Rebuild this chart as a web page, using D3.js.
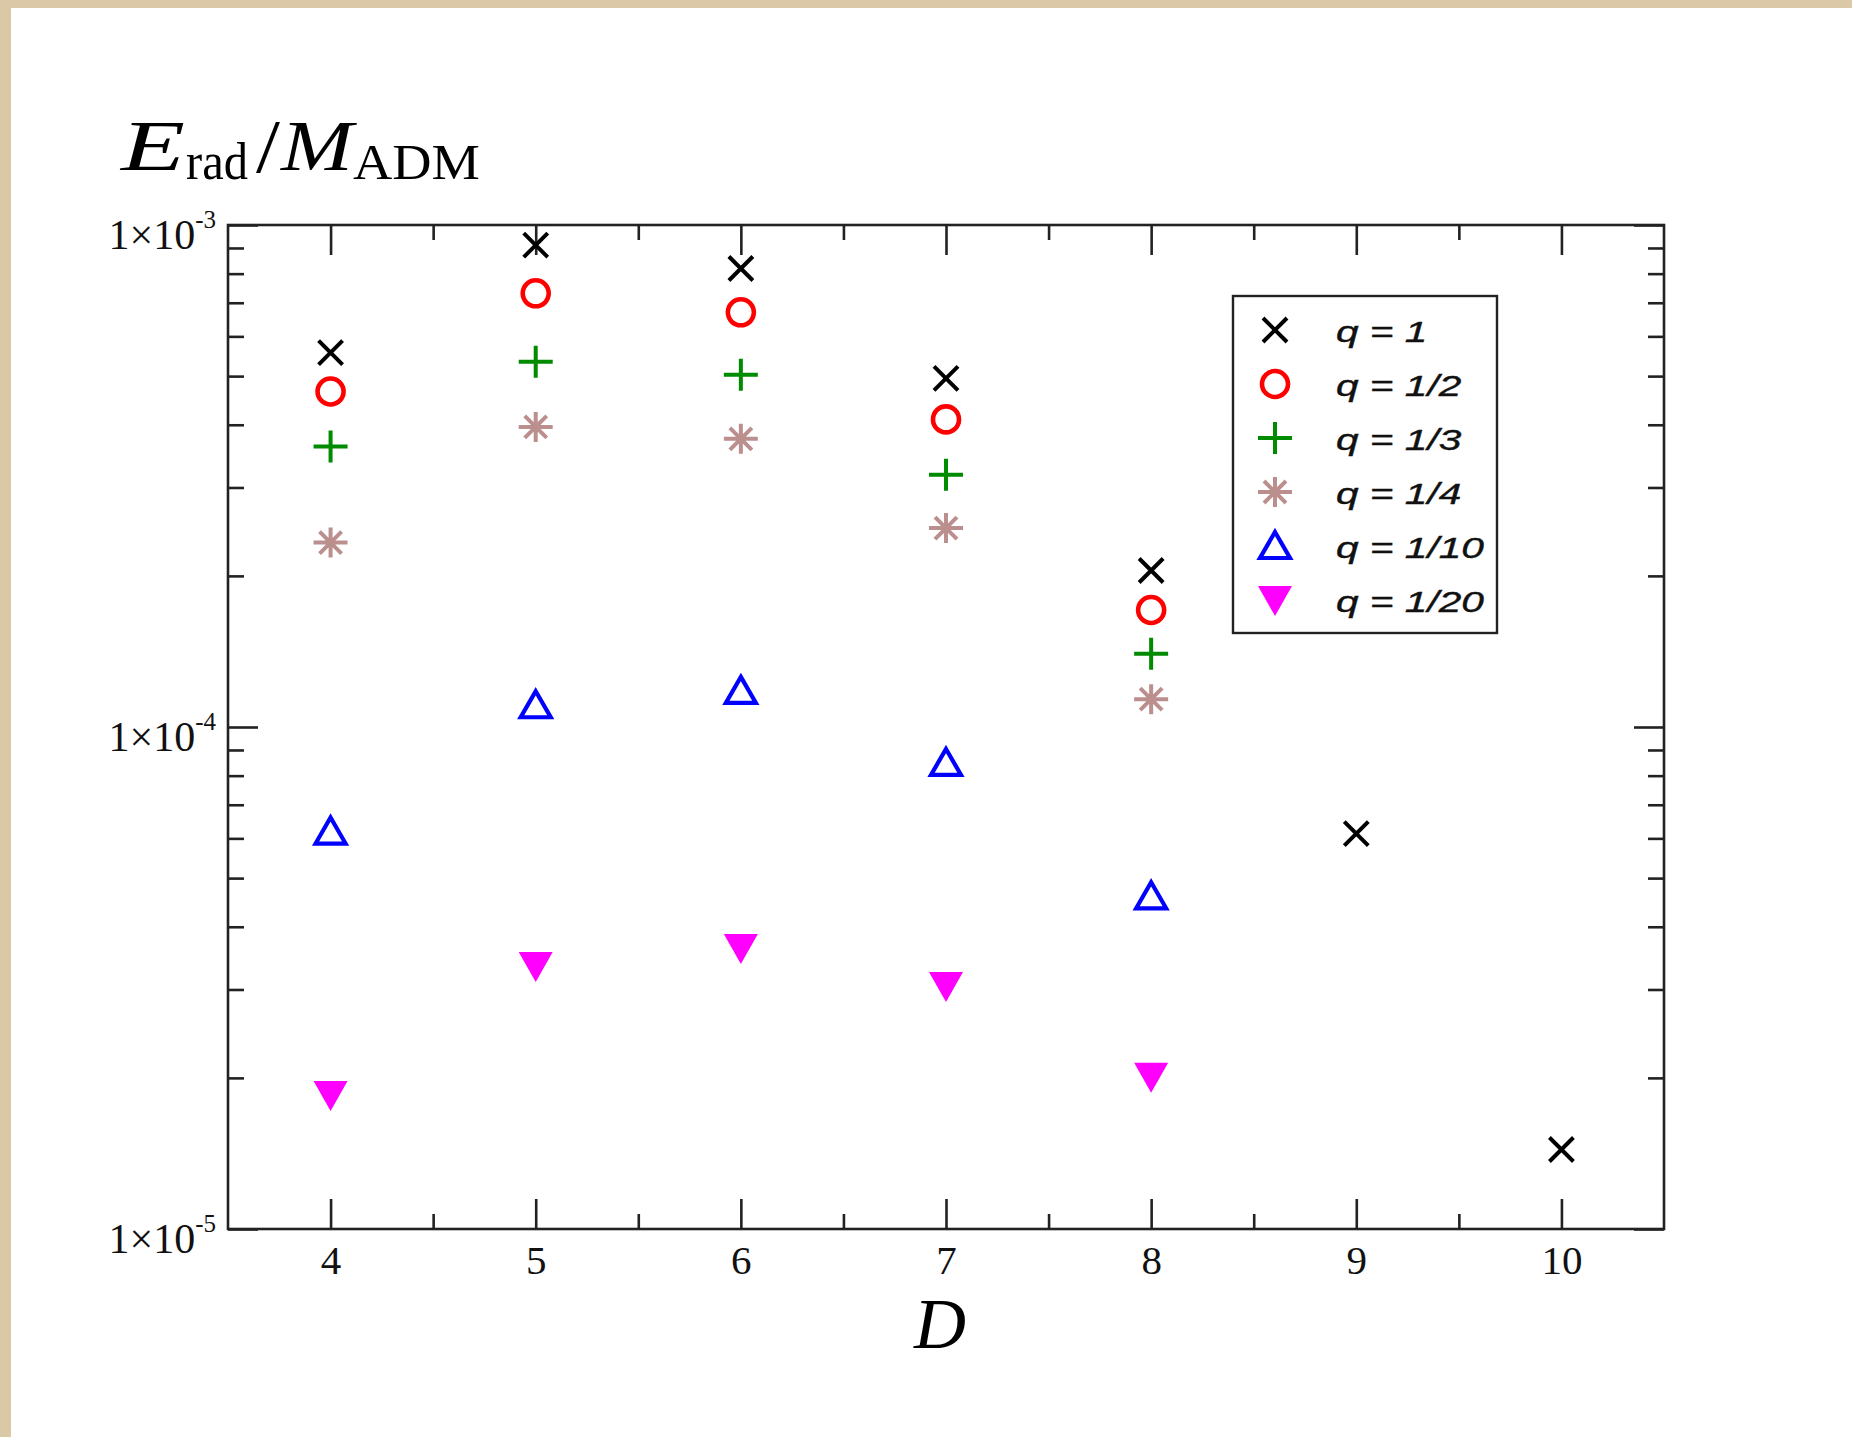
<!DOCTYPE html>
<html>
<head>
<meta charset="utf-8">
<script src="https://cdn.jsdelivr.net/npm/d3@7"></script>
<style>
  html, body { margin: 0; padding: 0; background: #fff; }
  svg { display: block; }
</style>
</head>
<body>
<svg id="chart" width="1852" height="1437"></svg>
<script>
// dimensions D on the x axis
var dims = [4, 5, 6, 7, 8, 9, 10];

// E_rad / M_ADM for each mass ratio q
var q1   = [5.57e-4, 9.12e-4, 8.19e-4, 4.95e-4, 2.05e-4, 6.13e-5, 1.44e-5];
var q1_2 = [4.66e-4, 7.31e-4, 6.70e-4, 4.10e-4, 1.71e-4];
var q1_3 = [3.62e-4, 5.34e-4, 5.03e-4, 3.18e-4, 1.40e-4];
var q1_4 = [2.33e-4, 3.96e-4, 3.75e-4, 2.49e-4, 1.136e-4];
var q1_10 = [6.19e-5, 1.105e-4, 1.18e-4, 8.48e-5, 4.60e-5];
var q1_20 = [1.85e-5, 3.34e-5, 3.63e-5, 3.05e-5, 2.01e-5];

var seriesNames = ["q = 1", "q = 1/2", "q = 1/3", "q = 1/4", "q = 1/10", "q = 1/20"];
var seriesValues = [q1, q1_2, q1_3, q1_4, q1_10, q1_20];
var seriesSymbols = ["x", "circle", "plus", "star", "tri", "tridown"];
var seriesColors = ["#000000", "#ff0000", "#008b00", "#bc8f8f", "#0000ff", "#ff00ff"];

var yMajor = [1e-5, 1e-4, 1e-3];
var yExp = ["-5", "-4", "-3"];

var svg = d3.select("#chart");
var width = +svg.attr("width"), height = +svg.attr("height");

// beige page edge
svg.append("rect").attr("x", 0).attr("y", 0).attr("width", width).attr("height", 8).attr("fill", "#dbc8a6");
svg.append("rect").attr("x", 0).attr("y", 0).attr("width", 11).attr("height", height).attr("fill", "#dbc8a6");

var plot = {left: 228, top: 225, right: 1664, bottom: 1229};

var x = d3.scaleLinear().domain([3.5, 10.5]).range([plot.left, plot.right]);
var y = d3.scaleLog().domain([1e-5, 1e-3]).range([plot.bottom, plot.top]);

var majorX = d3.range(4, 11);
var minorX = d3.range(4.5, 10.5, 1);
var minorY = [];
[1e-5, 1e-4].forEach(function(dec) {
    for (var k = 2; k <= 9; k++) minorY.push(dec * k);
});

function tickStyle(g) {
    g.select(".domain").remove();
    g.selectAll(".tick line").attr("stroke", "#222").attr("stroke-width", 2.6);
}

// bottom axis: inward ticks, labels below
svg.append("g").attr("transform", "translate(0," + plot.bottom + ")")
    .call(d3.axisBottom(x).tickValues(majorX).tickSize(-30).tickPadding(16).tickFormat(d3.format("d")))
    .call(tickStyle)
    .selectAll("text")
    .attr("font-family", "'Liberation Serif', serif")
    .attr("font-size", 41)
    .attr("fill", "#111");
svg.append("g").attr("transform", "translate(0," + plot.bottom + ")")
    .call(d3.axisBottom(x).tickValues(minorX).tickSize(-15).tickFormat(""))
    .call(tickStyle);

// top axis (mirror ticks)
svg.append("g").attr("transform", "translate(0," + plot.top + ")")
    .call(d3.axisTop(x).tickValues(majorX).tickSize(-30).tickFormat(""))
    .call(tickStyle);
svg.append("g").attr("transform", "translate(0," + plot.top + ")")
    .call(d3.axisTop(x).tickValues(minorX).tickSize(-15).tickFormat(""))
    .call(tickStyle);

// left and right axes
svg.append("g").attr("transform", "translate(" + plot.left + ",0)")
    .call(d3.axisLeft(y).tickValues(yMajor).tickSize(-30).tickFormat(""))
    .call(tickStyle);
svg.append("g").attr("transform", "translate(" + plot.left + ",0)")
    .call(d3.axisLeft(y).tickValues(minorY).tickSize(-16).tickFormat(""))
    .call(tickStyle);
svg.append("g").attr("transform", "translate(" + plot.right + ",0)")
    .call(d3.axisRight(y).tickValues(yMajor).tickSize(-30).tickFormat(""))
    .call(tickStyle);
svg.append("g").attr("transform", "translate(" + plot.right + ",0)")
    .call(d3.axisRight(y).tickValues(minorY).tickSize(-16).tickFormat(""))
    .call(tickStyle);

// frame
svg.append("rect")
    .attr("x", plot.left).attr("y", plot.top)
    .attr("width", plot.right - plot.left).attr("height", plot.bottom - plot.top)
    .attr("fill", "none").attr("stroke", "#222").attr("stroke-width", 2.6);

// y tick labels 1x10^n
var ylab = svg.append("g").selectAll("text")
    .data(yMajor).enter().append("text")
    .attr("x", 216)
    .attr("y", function(d) { return y(d) + 24; })
    .attr("text-anchor", "end")
    .attr("font-family", "'Liberation Serif', serif")
    .attr("font-size", 42)
    .attr("fill", "#111");
ylab.append("tspan").text("1\u00d710");
ylab.append("tspan")
    .attr("font-size", 25)
    .attr("dy", -21)
    .text(function(d, i) { return yExp[i]; });

// axis titles
svg.append("text")
    .attr("x", (plot.left + plot.right) / 2 - 6)
    .attr("y", 1348)
    .attr("text-anchor", "middle")
    .attr("font-family", "'Liberation Serif', serif")
    .attr("font-style", "italic")
    .attr("font-size", 72)
    .attr("fill", "#000")
    .text("D");

// E_rad / M_ADM, pieces stretched to the widths of the TeX glyphs
var titleParts = [
    {t: "E",   x: 121, y: 170, size: 72, italic: true,  w: 64},
    {t: "rad", x: 186, y: 179, size: 52, italic: false, w: 62},
    {t: "/",   x: 256, y: 172, size: 76, italic: false, w: 24},
    {t: "M",   x: 281, y: 170, size: 72, italic: true,  w: 72},
    {t: "ADM", x: 353, y: 179, size: 50, italic: false, w: 127}
];
svg.append("g").selectAll("text")
    .data(titleParts).enter().append("text")
    .attr("x", function(d) { return d.x; })
    .attr("y", function(d) { return d.y; })
    .attr("font-family", "'Liberation Serif', serif")
    .attr("font-size", function(d) { return d.size; })
    .attr("font-style", function(d) { return d.italic ? "italic" : "normal"; })
    .attr("textLength", function(d) { return d.w; })
    .attr("lengthAdjust", "spacingAndGlyphs")
    .attr("fill", "#000")
    .text(function(d) { return d.t; });

// marker shapes
function symbolPath(type) {
    switch (type) {
        case "x": return "M-12,-12L12,12M-12,12L12,-12";
        case "plus": return "M-17,0L17,0M0,-16L0,16";
        case "star": return "M-17,0L17,0M0,-15L0,15M-11,-11L11,11M-11,11L11,-11";
        case "tri": return "M0,-14L15,12L-15,12Z";
        case "tridown": return "M-17,-14L17,-14L0,16Z";
        default: return "";
    }
}

function drawMarker(sel, type, color) {
    if (type === "circle") {
        sel.append("circle").attr("r", 13)
            .attr("fill", "none").attr("stroke", color).attr("stroke-width", 4.6);
    } else if (type === "tridown") {
        sel.append("path").attr("d", symbolPath(type)).attr("fill", color);
    } else {
        sel.append("path").attr("d", symbolPath(type))
            .attr("fill", "none").attr("stroke", color)
            .attr("stroke-width", type === "tri" ? 4.2 : 4)
            .attr("stroke-linejoin", "miter");
    }
}

seriesValues.forEach(function(vals, s) {
    var pts = vals.map(function(v, i) { return {d: dims[i], v: v}; });
    svg.append("g").selectAll("g")
        .data(pts).enter().append("g")
        .attr("transform", function(p) { return "translate(" + x(p.d) + "," + y(p.v) + ")"; })
        .each(function() { drawMarker(d3.select(this), seriesSymbols[s], seriesColors[s]); });
});

// legend
var legend = svg.append("g").attr("transform", "translate(1233,296)");
legend.append("rect")
    .attr("width", 264).attr("height", 337)
    .attr("fill", "#fff").attr("stroke", "#222").attr("stroke-width", 2.4);

var rows = legend.selectAll(".row")
    .data(seriesNames).enter().append("g")
    .attr("class", "row")
    .attr("transform", function(d, i) { return "translate(0," + (34 + i * 54) + ")"; });
rows.append("g")
    .attr("transform", "translate(42,0)")
    .each(function(d, i) { drawMarker(d3.select(this), seriesSymbols[i], seriesColors[i]); });
rows.append("g")
    .attr("transform", "translate(103,12) scale(1.4,1)")
    .append("text")
    .attr("font-family", "'Liberation Sans', Arial, sans-serif")
    .attr("font-style", "italic")
    .attr("font-size", 29)
    .attr("stroke", "#111")
    .attr("stroke-width", 0.4)
    .attr("fill", "#111")
    .text(function(d) { return d; });
</script>
</body>
</html>
